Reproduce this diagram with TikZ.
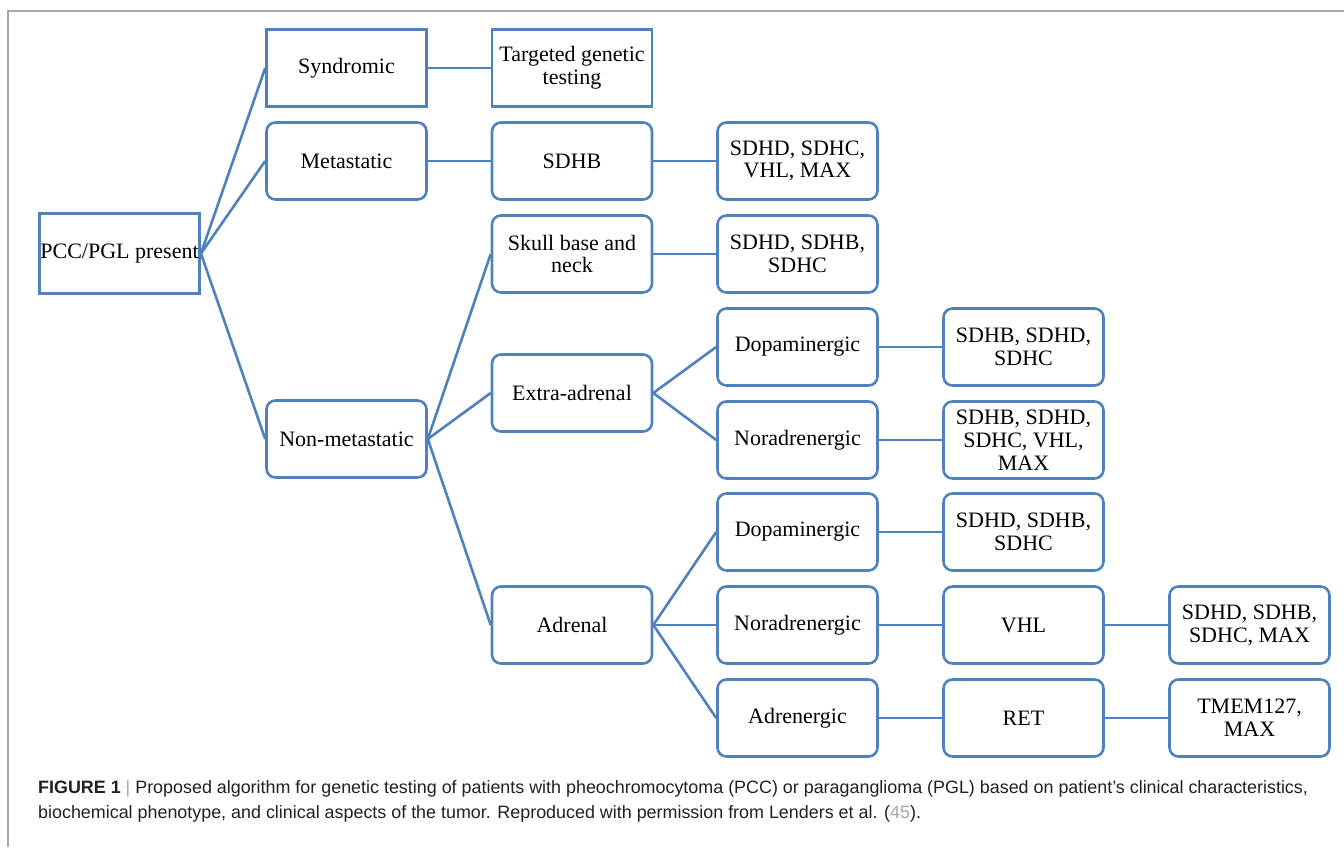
\documentclass[tikz,border=0pt]{standalone}
\usepackage{fontspec}
\setmainfont{Liberation Serif}
\newfontfamily\capfont{Liberation Sans}
\usepackage{tikz}
\definecolor{boxblue}{HTML}{4F81BD}
\definecolor{framegray}{HTML}{A6A6A6}
\definecolor{captext}{HTML}{231F20}

\begin{document}
\begin{tikzpicture}[x=1pt,y=-1pt]
		\useasboundingbox (0,0) rectangle (1344,847);
		\draw[framegray,line width=2pt] (8,847) -- (8,11) -- (1344,11);
		\tikzstyle{sqbox}=[draw=boxblue,line width=2.6pt,minimum width=160pt,minimum height=77pt,align=center,inner sep=1pt,font=\fontsize{22}{22.8}\selectfont]
		\tikzstyle{rbox}=[sqbox,rounded corners=9pt]
		\tikzstyle{link}=[boxblue,line width=2.6pt]
		% column 1
		\node[sqbox,minimum height=80pt] (b_pcc) at (119.5,253.5) {PCC/PGL present};
		% column 2
		\node[sqbox] (b_synd) at (346.5,68) {Syndromic};
		\node[rbox] (b_meta) at (346.5,161) {Metastatic};
		\node[rbox] (b_nonmeta) at (346.5,439) {Non-metastatic};
		% column 3
		\node[sqbox] (b_targ) at (572,68) {Targeted genetic\\testing};
		\node[rbox] (b_sdhb) at (572,161) {SDHB};
		\node[rbox] (b_skull) at (572,254) {Skull base and\\neck};
		\node[rbox] (b_extra) at (572,393) {Extra-adrenal};
		\node[rbox] (b_adren) at (572,625) {Adrenal};
		% column 4
		\node[rbox] (g_meta) at (797.5,161) {SDHD, SDHC,\\VHL, MAX};
		\node[rbox] (g_skull) at (797.5,254) {SDHD, SDHB,\\SDHC};
		\node[rbox] (b_dopa1) at (797.5,347) {Dopaminergic};
		\node[rbox] (b_nora1) at (797.5,440) {Noradrenergic};
		\node[rbox] (b_dopa2) at (797.5,532) {Dopaminergic};
		\node[rbox] (b_nora2) at (797.5,625) {Noradrenergic};
		\node[rbox] (b_adrg) at (797.5,718) {Adrenergic};
		% column 5
		\node[rbox] (g_dopa1) at (1023.5,347) {SDHB, SDHD,\\SDHC};
		\node[rbox] (g_nora1) at (1023.5,440) {SDHB, SDHD,\\SDHC, VHL,\\MAX};
		\node[rbox] (g_dopa2) at (1023.5,532) {SDHD, SDHB,\\SDHC};
		\node[rbox] (b_vhl) at (1023.5,625) {VHL};
		\node[rbox] (b_ret) at (1023.5,718) {RET};
		% column 6
		\node[rbox] (g_vhl) at (1249.5,625) {SDHD, SDHB,\\SDHC, MAX};
		\node[rbox] (g_ret) at (1249.5,718) {TMEM127,\\MAX};
		% connectors
		\foreach \a/\b in {b_pcc/b_synd,b_pcc/b_meta,b_pcc/b_nonmeta,
			b_nonmeta/b_skull,b_nonmeta/b_extra,b_nonmeta/b_adren,
			b_extra/b_dopa1,b_extra/b_nora1,
			b_adren/b_dopa2,b_adren/b_nora2,b_adren/b_adrg}
			\draw[link] (\a.east) -- (\b.west);
		\foreach \a/\b in {b_synd/b_targ,b_meta/b_sdhb,b_sdhb/g_meta,b_skull/g_skull,
			b_dopa1/g_dopa1,b_nora1/g_nora1,b_dopa2/g_dopa2,
			b_nora2/b_vhl,b_vhl/g_vhl,b_adrg/b_ret,b_ret/g_ret}
			\draw[link] (\a) -- (\b);
		% caption
		\node[anchor=base west,inner sep=0pt,text=captext,font=\capfont\fontsize{17.9}{20}\selectfont] (cap_1) at (38,793)
			{\textbf{FIGURE 1} {\color{framegray}|} Proposed algorithm for genetic testing of patients with pheochromocytoma (PCC) or paraganglioma (PGL) based on patient’s clinical characteristics,};
		\node[anchor=base west,inner sep=0pt,text=captext,font=\capfont\fontsize{17.9}{20}\selectfont] (cap_2) at (38,818)
			{biochemical phenotype, and clinical aspects of the tumor. Reproduced with permission from Lenders et al. ({\color{framegray}45}).};
	\end{tikzpicture}
\end{document}
